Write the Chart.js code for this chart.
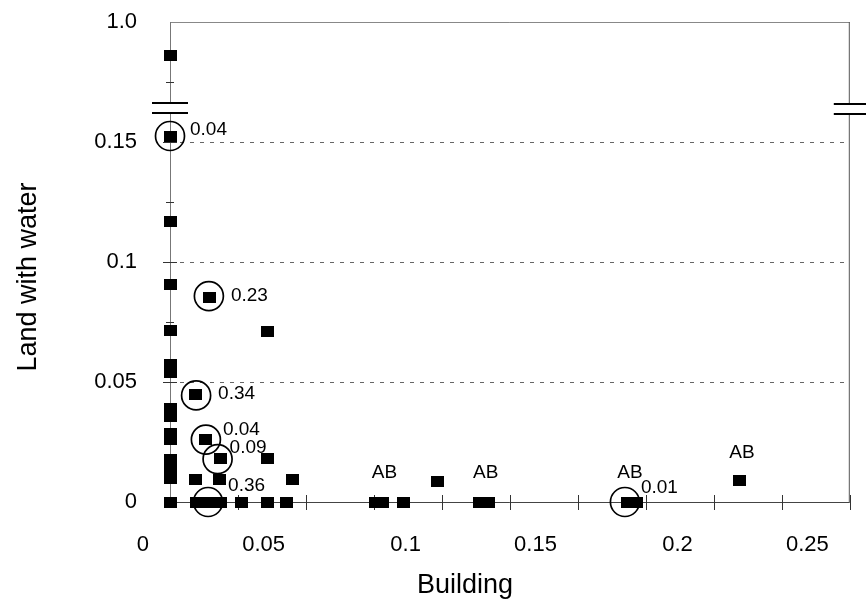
<!DOCTYPE html>
<html>
<head>
<meta charset="utf-8">
<script src="https://cdn.jsdelivr.net/npm/chart.js@4.4.1/dist/chart.umd.min.js"></script>
<style>
    html, body { margin: 0; padding: 0; background: #fff; }
    #grafico { display: block; }
</style>
</head>
<body>
<canvas id="grafico" width="866" height="599"></canvas>
<script>
// valores (x = Building, y = Land with water)
const buildingValues = [0, 0, 0, 0, 0, 0, 0, 0, 0, 0, 0, 0, 0, 0, 0,
    0.0092, 0.0182, 0.0184, 0.0132, 0.0094, 0.0145, 0.036, 0.036, 0.0449,
    0.0097, 0.0141, 0.0184, 0.0263, 0.036, 0.043,
    0.0754, 0.0783, 0.0858, 0.114, 0.117, 0.0983, 0.1684, 0.1717, 0.2096];
const landWaterValues = [0.945, 0.1525, 0.1168, 0.0908, 0.0714, 0.0572, 0.0538, 0.0389, 0.0357, 0.0285, 0.026, 0.0178, 0.0139, 0.01, 0,
    0.0092, 0.0092, 0.018, 0.026, 0.0447, 0.0854, 0.071, 0.018, 0.0092,
    0, 0, 0, 0, 0, 0,
    0, 0, 0, 0, 0, 0.0087, 0, 0, 0.0088];

// pontos circulados e seus rotulos
const circleX = [0, 0.0143, 0.0096, 0.0132, 0.0175, 0.014, 0.1673];
const circleY = [0.1525, 0.0858, 0.0444, 0.026, 0.0179, 0, 0];
const circleLabels = ['0.04', '0.23', '0.34', '0.04', '0.09', '0.36', '0.01'];

// rotulos AB
const abX = [0.0754, 0.114, 0.1684, 0.2096];
const abY = [0, 0, 0, 0.0088];
const abLabels = ['AB', 'AB', 'AB', 'AB'];

const xTickLabels = ['0', '0.05', '0.1', '0.15', '0.2', '0.25'];
const yTickLabels = ['0', '0.05', '0.1', '0.15', '1.0'];

// eixo y quebrado: abaixo de 0.17 linear, acima comprimido ate 1.0
function toAxis(v) {
    return v <= 0.17 ? v : 0.2 - (1 - v) / 4;
}

const FONT = '"Liberation Sans", Arial, sans-serif';

// marcador retangular preto
const squareMark = document.createElement('canvas');
squareMark.width = 13;
squareMark.height = 11;
let sctx = squareMark.getContext('2d');
sctx.fillStyle = '#000';
sctx.fillRect(0, 0, 13, 11);

function linha(ctx, x1, y1, x2, y2) {
    ctx.beginPath();
    ctx.moveTo(x1, y1);
    ctx.lineTo(x2, y2);
    ctx.stroke();
}

// moldura, grade tracejada, marcas e quebra do eixo
const moldura = {
    id: 'moldura',
    beforeDatasetsDraw(chart) {
        const { ctx, chartArea: a, scales: { x, y } } = chart;
        ctx.save();

        ctx.lineWidth = 1;
        ctx.strokeStyle = '#666';
        ctx.setLineDash([4, 6]);
        [0.05, 0.1, 0.15].forEach(v => {
            let py = Math.round(y.getPixelForValue(v)) + 0.5;
            linha(ctx, a.left, py, a.right, py);
        });
        ctx.setLineDash([]);

        // bordas
        ctx.strokeStyle = '#888';
        linha(ctx, a.left, a.top + 0.5, a.right, a.top + 0.5);
        ctx.strokeStyle = '#555';
        linha(ctx, a.right - 0.5, a.top, a.right - 0.5, a.bottom);
        ctx.strokeStyle = '#777';
        linha(ctx, a.left + 0.5, a.top, a.left + 0.5, a.bottom);
        ctx.strokeStyle = '#444';
        linha(ctx, a.left, a.bottom + 0.5, a.right, a.bottom + 0.5);

        // marcas do eixo x (cruzando)
        ctx.strokeStyle = '#333';
        for (let v = 0.025; v <= 0.2501; v += 0.025) {
            let px = Math.round(x.getPixelForValue(v)) + 0.5;
            linha(ctx, px, a.bottom - 7, px, a.bottom + 8);
        }
        // marcas do eixo y
        for (let v = 0.025; v <= 0.1501; v += 0.025) {
            let py = Math.round(y.getPixelForValue(v)) + 0.5;
            let big = Math.abs((v / 0.05) - Math.round(v / 0.05)) < 0.01;
            linha(ctx, a.left - (big ? 7 : 4), py, a.left + (big ? 7 : 4), py);
        }
        let p9 = Math.round(y.getPixelForValue(toAxis(0.9))) + 0.5;
        linha(ctx, a.left - 4, p9, a.left + 4, p9);

        // quebra do eixo
        let b1 = Math.round(y.getPixelForValue(0.1662));
        let b2 = Math.round(y.getPixelForValue(0.1622));
        ctx.fillStyle = '#fff';
        ctx.fillRect(a.left - 3, b1, 6, b2 - b1);
        ctx.fillRect(a.right - 3, b1, 6, b2 - b1);
        ctx.strokeStyle = '#000';
        ctx.lineWidth = 2;
        linha(ctx, a.left - 18, b1, a.left + 18, b1);
        linha(ctx, a.left - 18, b2, a.left + 18, b2);
        linha(ctx, a.right - 16, b1 + 1, chart.width, b1 + 1);
        linha(ctx, a.right - 16, b2 + 1, chart.width, b2 + 1);

        ctx.restore();
    }
};

// rotulos junto aos pontos + titulos dos eixos
const rotulos = {
    id: 'rotulos',
    afterDatasetsDraw(chart, args, opts) {
        const { ctx, scales: { x, y } } = chart;
        ctx.save();
        ctx.fillStyle = '#000';
        ctx.font = '19px ' + FONT;
        ctx.textBaseline = 'middle';

        ctx.textAlign = 'left';
        circleLabels.forEach((t, i) => {
            let px = x.getPixelForValue(circleX[i]);
            let py = y.getPixelForValue(toAxis(circleY[i]));
            ctx.fillText(t, px + opts.circleOffsets[i][0], py + opts.circleOffsets[i][1]);
        });

        ctx.textAlign = 'center';
        abLabels.forEach((t, i) => {
            let px = x.getPixelForValue(abX[i]);
            let py = y.getPixelForValue(toAxis(abY[i]));
            ctx.fillText(t, px + opts.abOffsets[i][0], py + opts.abOffsets[i][1]);
        });

        // titulos
        ctx.font = '27px ' + FONT;
        ctx.textBaseline = 'alphabetic';
        ctx.textAlign = 'center';
        ctx.fillText('Building', 465, 593);

        ctx.translate(36, 277);
        ctx.rotate(-Math.PI / 2);
        ctx.fillText('Land with water', 0, 0);
        ctx.restore();
    }
};

const pontos = buildingValues.map((v, i) => ({ x: v, y: toAxis(landWaterValues[i]) }));
const circulos = circleX.map((v, i) => ({ x: v, y: toAxis(circleY[i]) }));

new Chart(document.getElementById('grafico'), {
    type: 'scatter',
    data: {
        datasets: [
            {
                label: 'pontos',
                data: pontos,
                pointStyle: squareMark,
                pointRadius: 6,
                pointHoverRadius: 6,
                clip: false
            },
            {
                label: 'circulos',
                data: circulos,
                pointStyle: 'circle',
                pointRadius: 14.5,
                pointHoverRadius: 14.5,
                borderColor: '#000',
                borderWidth: 1.7,
                backgroundColor: 'rgba(0,0,0,0)',
                clip: false
            }
        ]
    },
    options: {
        responsive: false,
        animation: false,
        events: [],
        layout: { padding: { top: 22, right: 16, left: 0, bottom: 0 } },
        plugins: {
            legend: { display: false },
            tooltip: { enabled: false },
            rotulos: {
                circleOffsets: [[20, -6], [22, 0], [22, -2], [17, -9.5], [12, -11.5], [20, -16], [16, -14]],
                abOffsets: [[9.5, -29], [5.7, -29], [2, -29], [2, -28]]
            }
        },
        scales: {
            x: {
                type: 'linear',
                min: 0,
                max: 0.25,
                afterFit: s => {
                    s.height = 97;
                    s.paddingLeft = 0;
                    s.paddingRight = 0;
                },
                grid: { display: false, drawTicks: false },
                border: { display: false },
                ticks: {
                    stepSize: 0.05,
                    autoSkip: false,
                    maxRotation: 0,
                    align: 'end',
                    labelOffset: -21,
                    padding: 30,
                    color: '#000',
                    font: { family: FONT, size: 22 },
                    callback: (v, i) => xTickLabels[i]
                }
            },
            y: {
                type: 'linear',
                min: 0,
                max: 0.2,
                afterFit: s => {
                    s.width = 170;
                    s.paddingTop = 0;
                    s.paddingBottom = 0;
                },
                grid: { display: false, drawTicks: false },
                border: { display: false },
                ticks: {
                    stepSize: 0.05,
                    autoSkip: false,
                    padding: 33,
                    color: '#000',
                    font: { family: FONT, size: 22 },
                    callback: (v, i) => yTickLabels[i]
                }
            }
        }
    },
    plugins: [moldura, rotulos]
});
</script>
</body>
</html>
